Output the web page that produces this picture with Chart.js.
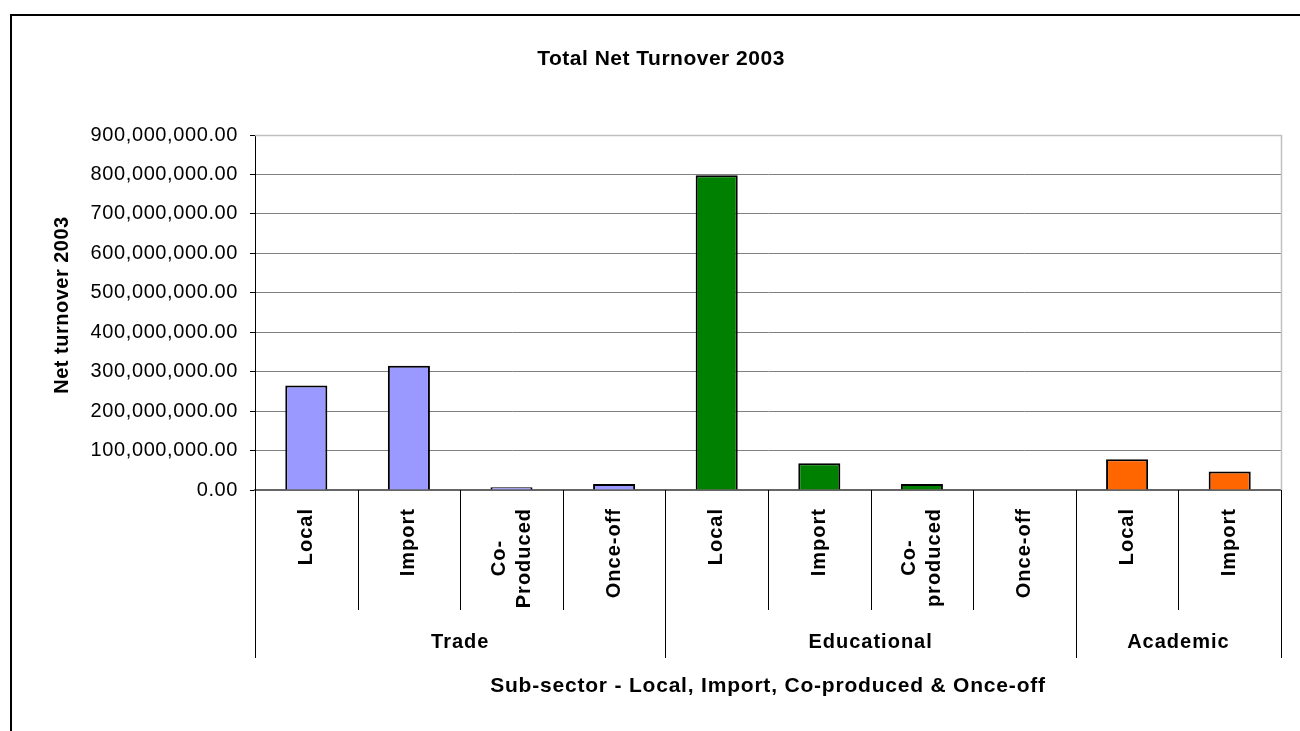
<!DOCTYPE html>
<html>
<head>
<meta charset="utf-8">
<script src="https://cdn.jsdelivr.net/npm/chart.js@4.4.1/dist/chart.umd.min.js"></script>
<style>
  html, body { margin: 0; padding: 0; background: #fff; }
  #wrap { width: 1300px; height: 731px; position: relative; }
</style>
</head>
<body>
<div id="wrap"><canvas id="c" width="1300" height="731"></canvas></div>
<script>
// ---- Data ----
const categories = [['Local'], ['Import'], ['Co-', 'Produced'], ['Once-off'],
                    ['Local'], ['Import'], ['Co-', 'produced'], ['Once-off'],
                    ['Local'], ['Import']];
const groups = ['Trade', 'Educational', 'Academic'];
const groupSizes = [4, 4, 2];
const groupColors = ['#9999FF', '#008000', '#FF6600'];
const netTurnover = [265000000, 315000000, 7000000, 15000000,
                     798000000, 68000000, 15000000, 0,
                     78000000, 47000000];
const yTicks = [0, 100000000, 200000000, 300000000, 400000000, 500000000,
                600000000, 700000000, 800000000, 900000000];
const chartTitle = 'Total Net Turnover 2003';
const yTitle = 'Net turnover 2003';
const xTitle = 'Sub-sector - Local, Import, Co-produced & Once-off';

// colours per bar derived from group membership
const barColors = [];
groupSizes.forEach((n, g) => { for (let i = 0; i < n; i++) barColors.push(groupColors[g]); });

const FONT = '"Liberation Sans", Arial, sans-serif';

const decorPlugin = {
  id: 'decor',
  beforeDraw(chart) {
    chart.ctx.letterSpacing = '0.6px';
  },
  afterDraw(chart) {
    const ctx = chart.ctx;
    const xs = chart.scales.x;
    const area = chart.chartArea;
    ctx.save();
    // outer chart border (only left/top visible)
    ctx.strokeStyle = '#000';
    ctx.lineWidth = 2;
    ctx.strokeRect(11, 15, 1400, 800);

    // plot area top/right border
    ctx.strokeStyle = '#c0c0c0';
    ctx.lineWidth = 1.5;
    ctx.beginPath();
    ctx.moveTo(area.left, area.top + 0.5);
    ctx.lineTo(area.right + 0.5, area.top + 0.5);
    ctx.lineTo(area.right + 0.5, area.bottom);
    ctx.stroke();

    // title
    ctx.fillStyle = '#000';
    ctx.letterSpacing = '0.5px';
    ctx.font = 'bold 21px ' + FONT;
    ctx.textAlign = 'center';
    ctx.textBaseline = 'middle';
    ctx.fillText(chartTitle, 661, 59);

    // y title
    ctx.save();
    ctx.translate(62, 305);
    ctx.rotate(-Math.PI / 2);
    ctx.letterSpacing = '0.5px';
    ctx.font = 'bold 20px ' + FONT;
    ctx.fillText(yTitle, 0, 0);
    ctx.restore();

    // category dividers
    const n = categories.length;
    const half = (xs.getPixelForValue(1) - xs.getPixelForValue(0)) / 2;
    const groupEnds = new Set([0]);
    let acc = 0;
    groupSizes.forEach(s => { acc += s; groupEnds.add(acc); });
    ctx.strokeStyle = '#000';
    ctx.lineWidth = 1;
    for (let i = 0; i <= n; i++) {
      const x = Math.round(i < n ? xs.getPixelForValue(i) - half : xs.getPixelForValue(n - 1) + half) + 0.5;
      const yEnd = groupEnds.has(i) ? 658 : 610;
      ctx.beginPath();
      ctx.moveTo(x, area.bottom);
      ctx.lineTo(x, yEnd);
      ctx.stroke();
    }

    // rotated category labels
    ctx.font = 'bold 20px ' + FONT;
    ctx.letterSpacing = '1px';
    ctx.textAlign = 'center';
    ctx.textBaseline = 'middle';
    const lineH = 25;
    categories.forEach((lines, i) => {
      const cx = xs.getPixelForValue(i);
      const maxW = Math.max(...lines.map(l => ctx.measureText(l).width));
      const cy = 508 + maxW / 2;
      lines.forEach((l, j) => {
        const lx = cx + (j - (lines.length - 1) / 2) * lineH;
        ctx.save();
        ctx.translate(lx, cy);
        ctx.rotate(-Math.PI / 2);
        ctx.fillText(l, 0, 0);
        ctx.restore();
      });
    });

    // group labels
    let start = 0;
    groupSizes.forEach((s, g) => {
      const x0 = xs.getPixelForValue(start) - half;
      const x1 = xs.getPixelForValue(start + s - 1) + half;
      ctx.fillText(groups[g], (x0 + x1) / 2, 642);
      start += s;
    });

    // x title
    ctx.font = 'bold 21px ' + FONT;
    ctx.letterSpacing = '0.8px';
    ctx.fillText(xTitle, (area.left + area.right) / 2, 686);
    ctx.restore();
  }
};

new Chart(document.getElementById('c'), {
  type: 'bar',
  data: {
    labels: categories.map(l => l.join(' ')),
    datasets: [{
      data: netTurnover,
      backgroundColor: barColors,
      borderColor: '#000',
      borderWidth: 2,
      barPercentage: 0.41,
      categoryPercentage: 1
    }]
  },
  options: {
    responsive: false,
    devicePixelRatio: 1,
    animation: false,
    layout: { padding: { top: 135, right: 19, left: 0, bottom: 0 } },
    plugins: { legend: { display: false }, title: { display: false }, tooltip: { enabled: false } },
    scales: {
      x: {
        grid: { display: false },
        ticks: { display: false },
        border: { display: true, color: '#666', width: 2 },
        afterFit(scale) { scale.height = 241; }
      },
      y: {
        min: 0,
        max: 900000000,
        afterBuildTicks(scale) { scale.ticks = yTicks.map(v => ({ value: v })); },
        ticks: {
          color: '#000',
          padding: 12,
          font: { family: FONT, size: 20 },
          callback: v => Number(v).toLocaleString('en-US', { minimumFractionDigits: 2, maximumFractionDigits: 2 })
        },
        grid: {
          color: ctx => (ctx.tick && ctx.tick.value === 900000000) ? '#c0c0c0' : '#808080',
          lineWidth: 1,
          tickLength: 5,
          tickColor: '#000'
        },
        border: { display: true, color: '#000', width: 1 },
        afterFit(scale) { scale.width = 255; }
      }
    }
  },
  plugins: [decorPlugin]
});
</script>
</body>
</html>
